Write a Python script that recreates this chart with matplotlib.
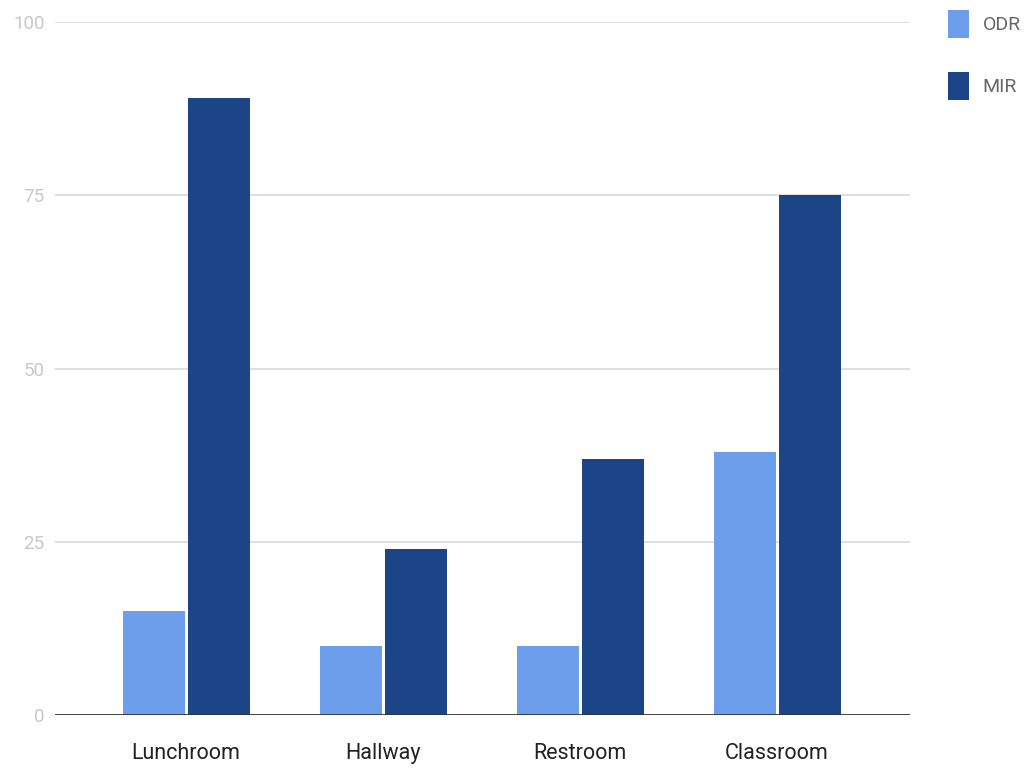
import matplotlib
matplotlib.use("Agg")
import matplotlib.pyplot as plt
import numpy as np

categories = ["Lunchroom", "Hallway", "Restroom", "Classroom"]
odr = [15, 10, 10, 38]
mir = [89, 24, 37, 75]
series_names = ["ODR", "MIR"]
yticks = [0, 25, 50, 75, 100]

plt.rcParams['font.family'] = ['Roboto', 'DejaVu Sans']

fig = plt.figure(figsize=(10.25, 7.7), dpi=100)
ax = fig.add_axes([55/1025, 1-715/770, (910-55)/1025, (715-22)/770])

x = np.arange(len(categories))
w = 0.315
b1 = ax.bar(x - 0.163, odr, width=w, color="#6d9eeb", label=series_names[0], zorder=3)
b2 = ax.bar(x + 0.168, mir, width=w, color="#1c4587", label=series_names[1], zorder=3)

ax.set_xlim(-0.665, 3.675)
ax.set_ylim(0, 100)
ax.set_yticks(yticks)
ax.set_yticklabels([str(t) for t in yticks], color="#c8c8c8", fontsize=13.5)
ax.set_xticks(x)
ax.set_xticklabels(categories, fontsize=15.5, color="#222222")
ax.tick_params(axis='y', length=0, pad=7.5)
ax.tick_params(axis='x', length=0, pad=20)
for t in yticks[1:]:
    ax.axhline(t, color="#d9d9d9", lw=1.2, zorder=1)
ax.axhline(0, color="#333333", lw=2, zorder=4)
for s in ax.spines.values():
    s.set_visible(False)

leg = fig.legend(handles=[b1, b2], labels=series_names, loc="upper left",
                 bbox_to_anchor=(940/1025, 1-2/770), frameon=False, fontsize=14,
                 handlelength=1.08, handleheight=1.85, labelspacing=1.75,
                 handletextpad=0.7, borderaxespad=0)
for t in leg.get_texts():
    t.set_color("#666666")

fig.savefig("out.png", dpi=100)
